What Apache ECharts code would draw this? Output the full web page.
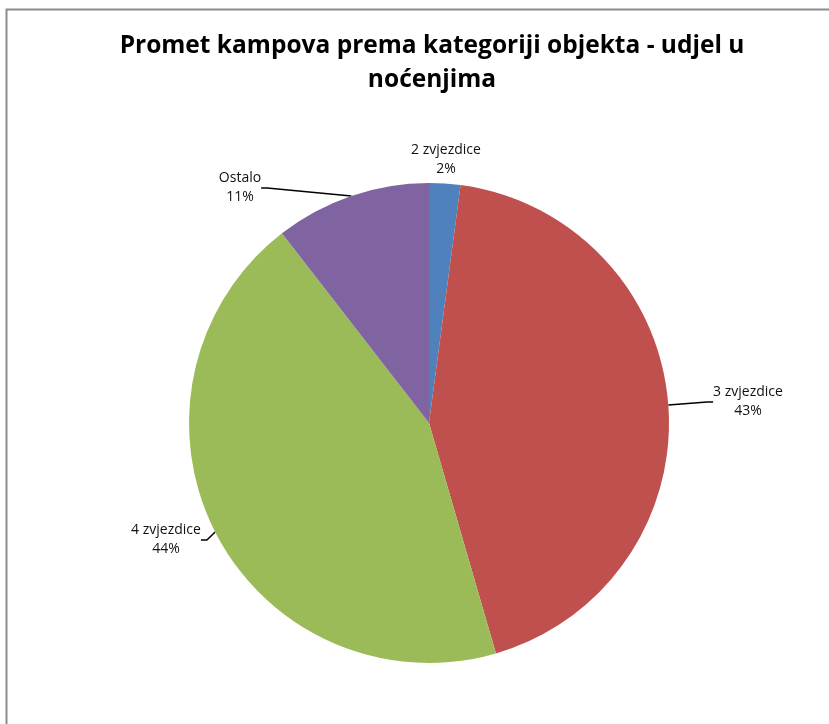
<!DOCTYPE html>
<html>
<head>
<meta charset="utf-8">
<script src="https://cdn.jsdelivr.net/npm/echarts@6/dist/echarts.min.js"></script>
<style>
  html, body { margin: 0; padding: 0; background: #fff; }
  #chart { width: 829px; height: 724px; }
</style>
</head>
<body>
<div id="chart"></div>
<script>
const categories = ["2 zvjezdice", "3 zvjezdice", "4 zvjezdice", "Ostalo"];
const shares = [2.1, 43.4, 44.0, 10.5];
const colors = ["#4F81BD", "#C0504D", "#9BBB59", "#8064A2"];

// where the labels sit (Excel-like placement)
const labelPos = [
  { x: 446, y: 160, line: false },
  { x: 748, y: 402, line: true },
  { x: 166, y: 540, line: true },
  { x: 240, y: 188, line: true },
];

const chart = echarts.init(document.getElementById("chart"));
chart.setOption({
  animation: false,
  backgroundColor: "#fff",
  title: {
    text: "Promet kampova prema kategoriji objekta - udjel u\nnoćenjima",
    left: 427,
    top: 24,
    textAlign: "center",
    textStyle: {
      fontFamily: "Open Sans",
      fontWeight: "bold",
      fontSize: 24.5,
      lineHeight: 34,
      color: "#000",
    },
  },
  graphic: [
    {
      type: "rect",
      shape: { x: 6.5, y: 9.5, width: 900, height: 900 },
      style: { fill: "none", stroke: "#8c8c8c", lineWidth: 2 },
      silent: true,
    },
  ],
  series: [
    {
      type: "pie",
      center: [429, 423],
      radius: 240,
      startAngle: 90,
      clockwise: true,
      data: categories.map((name, i) => ({
        name,
        value: shares[i],
        itemStyle: { color: colors[i] },
        labelLine: { show: labelPos[i].line },
      })),
      label: {
        show: true,
        position: "outside",
        formatter: (p) => p.name + "\n" + Math.round(p.percent) + "%",
        fontFamily: "Open Sans",
        fontSize: 14,
        lineHeight: 19,
        color: "#111",
        align: "center",
      },
      labelLine: {
        show: true,
        length: 12,
        length2: 6,
        lineStyle: { color: "#000", width: 1.5 },
      },
      labelLayout: (params) => {
        const p = labelPos[params.dataIndex];
        return { x: p.x, y: p.y, align: "center", verticalAlign: "middle" };
      },
    },
  ],
});
</script>
</body>
</html>
